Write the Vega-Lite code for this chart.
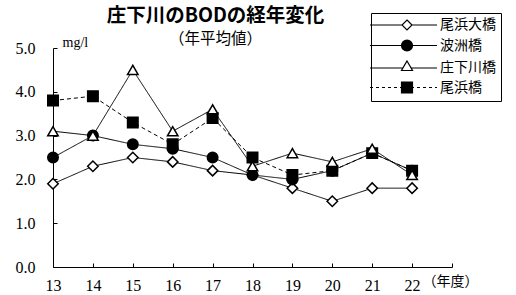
{
  "$schema": "https://vega.github.io/schema/vega-lite/v6.json",
  "width": 399,
  "height": 219,
  "autosize": {"type": "none"},
  "padding": {"left": 53, "top": 48, "right": 64, "bottom": 28},
  "background": "white",
  "title": {
    "text": "庄下川のBODの経年変化",
    "subtitle": "（年平均値）",
    "anchor": "middle",
    "frame": "group",
    "dx": -37,
    "dy": 36,
    "offset": 0,
    "font": "Noto Sans CJK JP",
    "fontSize": 19.5,
    "fontWeight": "bold",
    "color": "black",
    "subtitleFont": "Noto Sans CJK JP",
    "subtitleFontSize": 15.5,
    "subtitleColor": "black",
    "subtitlePadding": 6
  },
  "config": {
    "view": {"stroke": null},
    "axis": {"grid": false, "domainColor": "black", "tickColor": "black", "labelColor": "black", "titleColor": "black"}
  },
  "data": {
    "values": [
      {"series": "尾浜大橋", "year": 13, "bod": 1.9},
      {"series": "尾浜大橋", "year": 14, "bod": 2.3},
      {"series": "尾浜大橋", "year": 15, "bod": 2.5},
      {"series": "尾浜大橋", "year": 16, "bod": 2.4},
      {"series": "尾浜大橋", "year": 17, "bod": 2.2},
      {"series": "尾浜大橋", "year": 18, "bod": 2.1},
      {"series": "尾浜大橋", "year": 19, "bod": 1.8},
      {"series": "尾浜大橋", "year": 20, "bod": 1.5},
      {"series": "尾浜大橋", "year": 21, "bod": 1.8},
      {"series": "尾浜大橋", "year": 22, "bod": 1.8},
      {"series": "波洲橋", "year": 13, "bod": 2.5},
      {"series": "波洲橋", "year": 14, "bod": 3.0},
      {"series": "波洲橋", "year": 15, "bod": 2.8},
      {"series": "波洲橋", "year": 16, "bod": 2.7},
      {"series": "波洲橋", "year": 17, "bod": 2.5},
      {"series": "波洲橋", "year": 18, "bod": 2.1},
      {"series": "波洲橋", "year": 19, "bod": 2.0},
      {"series": "波洲橋", "year": 20, "bod": 2.2},
      {"series": "波洲橋", "year": 21, "bod": 2.6},
      {"series": "波洲橋", "year": 22, "bod": 2.2},
      {"series": "尾浜橋", "year": 13, "bod": 3.8},
      {"series": "尾浜橋", "year": 14, "bod": 3.9},
      {"series": "尾浜橋", "year": 15, "bod": 3.3},
      {"series": "尾浜橋", "year": 16, "bod": 2.8},
      {"series": "尾浜橋", "year": 17, "bod": 3.4},
      {"series": "尾浜橋", "year": 18, "bod": 2.5},
      {"series": "尾浜橋", "year": 19, "bod": 2.1},
      {"series": "尾浜橋", "year": 20, "bod": 2.2},
      {"series": "尾浜橋", "year": 21, "bod": 2.6},
      {"series": "尾浜橋", "year": 22, "bod": 2.2},
      {"series": "庄下川橋", "year": 13, "bod": 3.1},
      {"series": "庄下川橋", "year": 14, "bod": 3.0},
      {"series": "庄下川橋", "year": 15, "bod": 4.5},
      {"series": "庄下川橋", "year": 16, "bod": 3.1},
      {"series": "庄下川橋", "year": 17, "bod": 3.6},
      {"series": "庄下川橋", "year": 18, "bod": 2.3},
      {"series": "庄下川橋", "year": 19, "bod": 2.6},
      {"series": "庄下川橋", "year": 20, "bod": 2.4},
      {"series": "庄下川橋", "year": 21, "bod": 2.7},
      {"series": "庄下川橋", "year": 22, "bod": 2.1}
    ]
  },
  "encoding": {
    "x": {
      "field": "year",
      "type": "quantitative",
      "scale": {"domain": [13, 23], "nice": false, "zero": false},
      "axis": {
        "values": [13, 14, 15, 16, 17, 18, 19, 20, 21, 22, 23],
        "format": "d",
        "labelExpr": "datum.value == 23 ? '' : datum.label",
        "labelFlush": false,
        "labelOverlap": false,
        "tickSize": -4,
        "labelPadding": 14,
        "labelFont": "Liberation Serif",
        "labelFontSize": 16,
        "title": "（年度）",
        "titleFont": "Noto Sans CJK JP",
        "titleFontSize": 14,
        "titleFontWeight": "normal",
        "titleX": 397,
        "titleY": 18,
        "titleAlign": "center",
        "titleBaseline": "alphabetic"
      }
    },
    "y": {
      "field": "bod",
      "type": "quantitative",
      "scale": {"domain": [0, 5], "nice": false},
      "axis": {
        "values": [0, 1, 2, 3, 4, 5],
        "format": ".1f",
        "labelOverlap": false,
        "labelFlush": false,
        "tickSize": -4,
        "labelPadding": 22,
        "labelFont": "Liberation Serif",
        "labelFontSize": 16,
        "title": "mg/l",
        "titleFont": "Liberation Serif",
        "titleFontSize": 14,
        "titleFontWeight": "normal",
        "titleAngle": 0,
        "titleX": 9,
        "titleY": -2,
        "titleAlign": "left",
        "titleBaseline": "alphabetic"
      }
    }
  },
  "layer": [
    {
      "mark": {"type": "point", "filled": false, "stroke": "black", "strokeWidth": 1.2, "opacity": 0, "size": 100},
      "encoding": {
        "shape": {
          "field": "series",
          "type": "nominal",
          "scale": {
            "domain": ["尾浜大橋", "波洲橋", "庄下川橋", "尾浜橋"],
            "range": [
              "M-7.4,0L-1,0M1,0L6,0M0,-1L1,0L0,1L-1,0Z",
              "M-7.4,0L6,0M-1.1,0A1.1,1.1 0 1,1 1.1,0A1.1,1.1 0 1,1 -1.1,0ZM-1.08,-0.2L1.08,-0.2M-1.08,0.2L1.08,0.2M-1.02,-0.4L1.02,-0.4M-1.02,0.4L1.02,0.4M-0.92,-0.6L0.92,-0.6M-0.92,0.6L0.92,0.6M-0.75,-0.8L0.75,-0.8M-0.75,0.8L0.75,0.8M-0.45,-1L0.45,-1M-0.45,1L0.45,1",
              "M-7.4,0L-0.81,0M0.81,0L6,0M0,-1.4L1.1,0.5L-1.1,0.5Z",
              "M-7.4,0L-6.8,0M-6.2,0L-5.6,0M-5,0L-4.4,0M-3.8,0L-3.2,0M-2.6,0L-2,0M-1.4,0L-1.1,0M1.1,0L1.4,0M2,0L2.6,0M3.2,0L3.8,0M4.4,0L5,0M5.6,0L6,0M-1.1,-1.1L1.1,-1.1L1.1,1.1L-1.1,1.1ZM-1.1,-0.9L1.1,-0.9M-1.1,-0.7L1.1,-0.7M-1.1,-0.5L1.1,-0.5M-1.1,-0.3L1.1,-0.3M-1.1,-0.1L1.1,-0.1M-1.1,0.1L1.1,0.1M-1.1,0.3L1.1,0.3M-1.1,0.5L1.1,0.5M-1.1,0.7L1.1,0.7M-1.1,0.9L1.1,0.9"
            ]
          },
          "legend": {
            "title": null,
            "orient": "none",
            "legendX": 318,
            "legendY": -35,
            "padding": 5,
            "strokeColor": "black",
            "fillColor": "white",
            "cornerRadius": 0,
            "symbolSize": 100,
            "symbolOpacity": 1,
            "symbolStrokeWidth": 1.2,
            "symbolStrokeColor": "black",
            "symbolOffset": 24,
            "labelOffset": 26,
            "labelFont": "Noto Sans CJK JP",
            "labelFontSize": 14,
            "labelColor": "black",
            "rowPadding": 4.5
          }
        }
      }
    },
    {
      "mark": {"type": "line", "stroke": "black", "strokeWidth": 1},
      "encoding": {
        "detail": {"field": "series", "type": "nominal"},
        "strokeDash": {
          "field": "series",
          "type": "nominal",
          "scale": {"domain": ["尾浜大橋", "波洲橋", "庄下川橋", "尾浜橋"], "range": [[1, 0], [1, 0], [1, 0], [4, 3]]},
          "legend": null
        }
      }
    },
    {
      "mark": {"type": "point", "filled": true, "stroke": "black", "strokeWidth": 1.5, "opacity": 1, "size": 110},
      "encoding": {
        "shape": {
          "field": "series",
          "type": "nominal",
          "scale": {"domain": ["尾浜大橋", "波洲橋", "庄下川橋", "尾浜橋"], "range": ["diamond", "circle", "triangle-up", "square"]},
          "legend": null
        },
        "fill": {
          "field": "series",
          "type": "nominal",
          "scale": {"domain": ["尾浜大橋", "波洲橋", "庄下川橋", "尾浜橋"], "range": ["white", "black", "white", "black"]},
          "legend": null
        }
      }
    }
  ],
  "resolve": {"scale": {"shape": "independent", "strokeDash": "independent", "fill": "independent"}}
}
